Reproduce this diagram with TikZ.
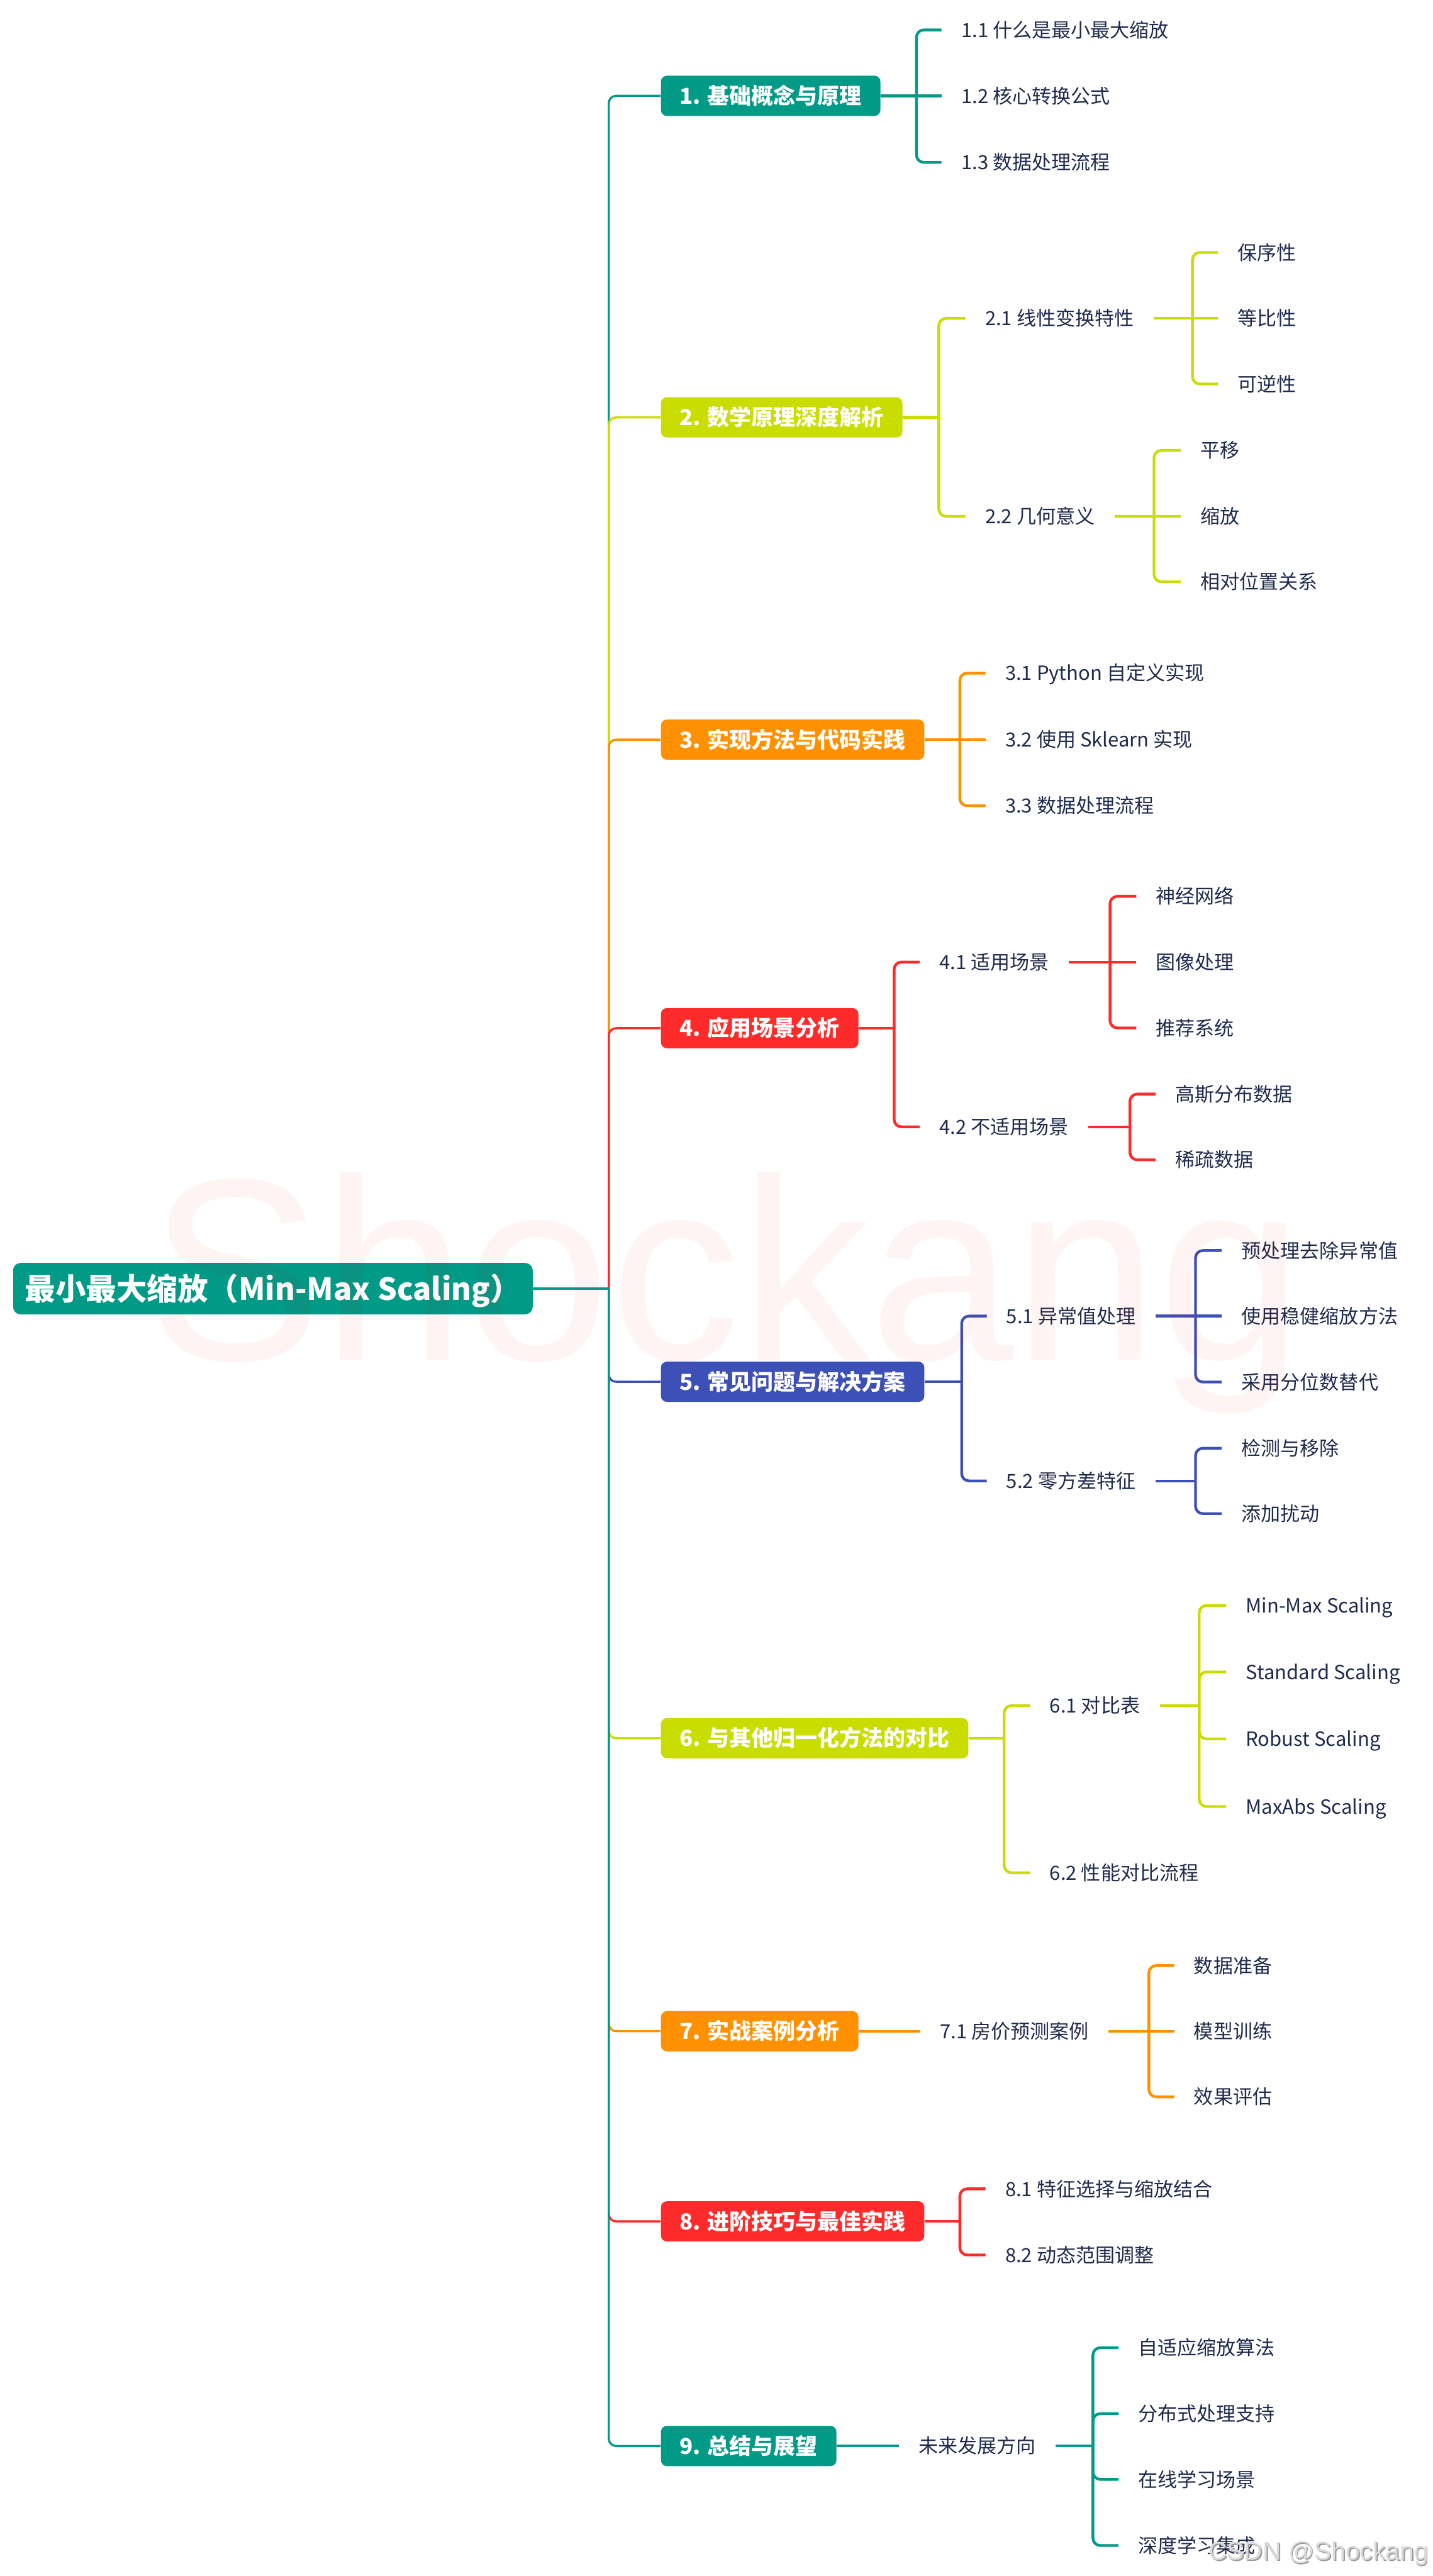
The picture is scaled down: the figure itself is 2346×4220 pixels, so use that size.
\documentclass[tikz,border=0pt]{standalone}
\usepackage{fontspec}
\setmainfont{Noto Sans CJK SC}
\newfontfamily\wmfont{Liberation Sans}
\definecolor{cteal}{HTML}{009A87}
\definecolor{clime}{HTML}{C9DD00}
\definecolor{corange}{HTML}{FF9100}
\definecolor{cred}{HTML}{FF2A2A}
\definecolor{cblue}{HTML}{3D50B8}
\definecolor{ctext}{HTML}{1F2B4D}
\newcommand{\mmbranch}[4]{%
  \draw[#1] (#2.east) -- (#2.east -| #3);
  \draw[#1, rounded corners=6pt] (#2.east -| #3) |- (#4.west);}
\newcommand{\mmstraight}[3]{\draw[#1] (#2.east) -- (#3.west);}
\begin{document}
\begin{tikzpicture}[x=0.5pt,y=-0.5pt,
  rootbox/.style={anchor=west, fill=cteal, text=white, font=\bfseries\fontsize{25pt}{30pt}\selectfont,
    minimum width=425.5pt, minimum height=42pt, rounded corners=6pt, inner sep=0pt,
    text height=21.9pt, text depth=3.1pt},
  topic/.style={anchor=west, fill=#1, text=white, font=\bfseries\fontsize{18pt}{22pt}\selectfont,
    minimum height=33pt, inner xsep=15.5pt, inner ysep=0pt, rounded corners=5pt,
    text height=15.75pt, text depth=2.25pt},
  leaf/.style={anchor=west, inner xsep=16pt, inner ysep=0pt, text=ctext,
    font=\fontsize{16pt}{19pt}\selectfont, text height=14pt, text depth=2pt},
  trunkline/.style={line width=1.75pt, draw=#1},
  subline/.style={line width=2.25pt, draw=#1},
]
\fill[white] (0,0) rectangle (2346,4220);
\useasboundingbox (0,0) rectangle (2346,4220);

% root and topics
\node[rootbox] (root) at (21,2111) {最小最大缩放（Min-Max Scaling）};
\node[topic=cteal]   (n1) at (1082,157)    {1. 基础概念与原理};
\node[topic=clime]   (n2) at (1082,683.7)  {2. 数学原理深度解析};
\node[topic=corange] (n3) at (1082,1211.7) {3. 实现方法与代码实践};
\node[topic=cred]    (n4) at (1082,1684.3) {4. 应用场景分析};
\node[topic=cblue]   (n5) at (1082,2263.6) {5. 常见问题与解决方案};
\node[topic=clime]   (n6) at (1082,2847.5) {6. 与其他归一化方法的对比};
\node[topic=corange] (n7) at (1082,3327.5) {7. 实战案例分析};
\node[topic=cred]    (n8) at (1082,3639)   {8. 进阶技巧与最佳实践};
\node[topic=cteal]   (n9) at (1082,4007)   {9. 总结与展望};

% group 1
\node[leaf] (a11) at (1542,49)  {1.1 什么是最小最大缩放};
\node[leaf] (a12) at (1542,157) {1.2 核心转换公式};
\node[leaf] (a13) at (1542,266) {1.3 数据处理流程};
% group 2
\node[leaf] (a21) at (1581,521.6) {2.1 线性变换特性};
\node[leaf] (a22) at (1581,845.8) {2.2 几何意义};
\node[leaf] (a211) at (1995,413.6) {保序性};
\node[leaf] (a212) at (1995,521.6) {等比性};
\node[leaf] (a213) at (1995,629)   {可逆性};
\node[leaf] (a221) at (1934,737.8) {平移};
\node[leaf] (a222) at (1934,845.8) {缩放};
\node[leaf] (a223) at (1934,953)   {相对位置关系};
% group 3
\node[leaf] (a31) at (1614,1102.7) {3.1 Python 自定义实现};
\node[leaf] (a32) at (1614,1211.7) {3.2 使用 Sklearn 实现};
\node[leaf] (a33) at (1614,1320)   {3.3 数据处理流程};
% group 4
\node[leaf] (a41) at (1506,1576) {4.1 适用场景};
\node[leaf] (a42) at (1506,1846) {4.2 不适用场景};
\node[leaf] (a411) at (1861,1468.3) {神经网络};
\node[leaf] (a412) at (1861,1576)   {图像处理};
\node[leaf] (a413) at (1861,1684)   {推荐系统};
\node[leaf] (a421) at (1892.7,1792.3) {高斯分布数据};
\node[leaf] (a422) at (1892.7,1900)   {稀疏数据};
% group 5
\node[leaf] (a51) at (1616,2156) {5.1 异常值处理};
\node[leaf] (a52) at (1616,2426) {5.2 零方差特征};
\node[leaf] (a511) at (2001,2048.6) {预处理去除异常值};
\node[leaf] (a512) at (2001,2156)   {使用稳健缩放方法};
\node[leaf] (a513) at (2001,2264)   {采用分位数替代};
\node[leaf] (a521) at (2001,2372.5) {检测与移除};
\node[leaf] (a522) at (2001,2479.6) {添加扰动};
% group 6
\node[leaf] (a61) at (1687,2794) {6.1 对比表};
\node[leaf] (a62) at (1687,3068) {6.2 性能对比流程};
\node[leaf] (a611) at (2008,2630)   {Min-Max Scaling};
\node[leaf] (a612) at (2008,2739)   {Standard Scaling};
\node[leaf] (a613) at (2008,2848.6) {Robust Scaling};
\node[leaf] (a614) at (2008,2959.4) {MaxAbs Scaling};
% group 7
\node[leaf] (a71) at (1507,3327.5) {7.1 房价预测案例};
\node[leaf] (a711) at (1923,3220)   {数据准备};
\node[leaf] (a712) at (1923,3327.5) {模型训练};
\node[leaf] (a713) at (1923,3435)   {效果评估};
% group 8
\node[leaf] (a81) at (1614,3585.7) {8.1 特征选择与缩放结合};
\node[leaf] (a82) at (1614,3694)   {8.2 动态范围调整};
% group 9
\node[leaf] (a91) at (1472,4007) {未来发展方向};
\node[leaf] (a911) at (1832,3846)   {自适应缩放算法};
\node[leaf] (a912) at (1832,3954)   {分布式处理支持};
\node[leaf] (a913) at (1832,4061.7) {在线学习场景};
\node[leaf] (a914) at (1832,4170)   {深度学习集成};

% bus coordinates
\coordinate (bT) at (997,0);
\coordinate (b1) at (1501,0);
\coordinate (b2) at (1537.5,0);
\coordinate (b21) at (1953,0);
\coordinate (b22) at (1890,0);
\coordinate (b3) at (1572,0);
\coordinate (b4) at (1464.4,0);
\coordinate (b41) at (1818,0);
\coordinate (b42) at (1850.6,0);
\coordinate (b5) at (1575,0);
\coordinate (b51) at (1958,0);
\coordinate (b52) at (1958,0);
\coordinate (b6) at (1644.6,0);
\coordinate (b61) at (1964,0);
\coordinate (b71) at (1881.6,0);
\coordinate (b8) at (1572,0);
\coordinate (b91) at (1790,0);

% group connectors
\mmbranch{subline=cteal}{n1}{b1}{a11}
\mmstraight{subline=cteal}{n1}{a12}
\mmbranch{subline=cteal}{n1}{b1}{a13}

\mmbranch{subline=clime}{n2}{b2}{a21}
\mmbranch{subline=clime}{n2}{b2}{a22}
\mmbranch{subline=clime}{a21}{b21}{a211}
\mmstraight{subline=clime}{a21}{a212}
\mmbranch{subline=clime}{a21}{b21}{a213}
\mmbranch{subline=clime}{a22}{b22}{a221}
\mmstraight{subline=clime}{a22}{a222}
\mmbranch{subline=clime}{a22}{b22}{a223}

\mmbranch{subline=corange}{n3}{b3}{a31}
\mmstraight{subline=corange}{n3}{a32}
\mmbranch{subline=corange}{n3}{b3}{a33}

\mmbranch{subline=cred}{n4}{b4}{a41}
\mmbranch{subline=cred}{n4}{b4}{a42}
\mmbranch{subline=cred}{a41}{b41}{a411}
\mmstraight{subline=cred}{a41}{a412}
\mmbranch{subline=cred}{a41}{b41}{a413}
\mmbranch{subline=cred}{a42}{b42}{a421}
\mmbranch{subline=cred}{a42}{b42}{a422}

\mmbranch{subline=cblue}{n5}{b5}{a51}
\mmbranch{subline=cblue}{n5}{b5}{a52}
\mmbranch{subline=cblue}{a51}{b51}{a511}
\mmstraight{subline=cblue}{a51}{a512}
\mmbranch{subline=cblue}{a51}{b51}{a513}
\mmbranch{subline=cblue}{a52}{b52}{a521}
\mmbranch{subline=cblue}{a52}{b52}{a522}

\mmbranch{subline=clime}{n6}{b6}{a61}
\mmbranch{subline=clime}{n6}{b6}{a62}
\mmbranch{subline=clime}{a61}{b61}{a611}
\mmbranch{subline=clime}{a61}{b61}{a612}
\mmbranch{subline=clime}{a61}{b61}{a613}
\mmbranch{subline=clime}{a61}{b61}{a614}

\mmstraight{subline=corange}{n7}{a71}
\mmbranch{subline=corange}{a71}{b71}{a711}
\mmstraight{subline=corange}{a71}{a712}
\mmbranch{subline=corange}{a71}{b71}{a713}

\mmbranch{subline=cred}{n8}{b8}{a81}
\mmbranch{subline=cred}{n8}{b8}{a82}

\mmstraight{subline=cteal}{n9}{a91}
\mmbranch{subline=cteal}{a91}{b91}{a911}
\mmbranch{subline=cteal}{a91}{b91}{a912}
\mmbranch{subline=cteal}{a91}{b91}{a913}
\mmbranch{subline=cteal}{a91}{b91}{a914}

% trunk connectors (drawn in order 1..9)
\mmbranch{trunkline=cteal}{root}{bT}{n1}
\mmbranch{trunkline=clime}{root}{bT}{n2}
\mmbranch{trunkline=corange}{root}{bT}{n3}
\mmbranch{trunkline=cred}{root}{bT}{n4}
\mmbranch{trunkline=cblue}{root}{bT}{n5}
\mmbranch{trunkline=clime}{root}{bT}{n6}
\mmbranch{trunkline=corange}{root}{bT}{n7}
\mmbranch{trunkline=cred}{root}{bT}{n8}
\mmbranch{trunkline=cteal}{root}{bT}{n9}

% watermarks
\node[anchor=base west, inner sep=0pt, font=\wmfont\fontsize{212.5pt}{215pt}\selectfont,
  text=red, text opacity=0.045] (wm) at (243,2228) {Shockang};
\node[anchor=base west, inner sep=0pt, font=\wmfont\fontsize{21pt}{24pt}\selectfont,
  text=black!40] (csdns) at (1981,4196) {CSDN @Shockang};
\node[anchor=base west, inner sep=0pt, font=\wmfont\fontsize{21pt}{24pt}\selectfont,
  text=black!14] (csdn) at (1979,4194) {CSDN @Shockang};
\end{tikzpicture}
\end{document}
